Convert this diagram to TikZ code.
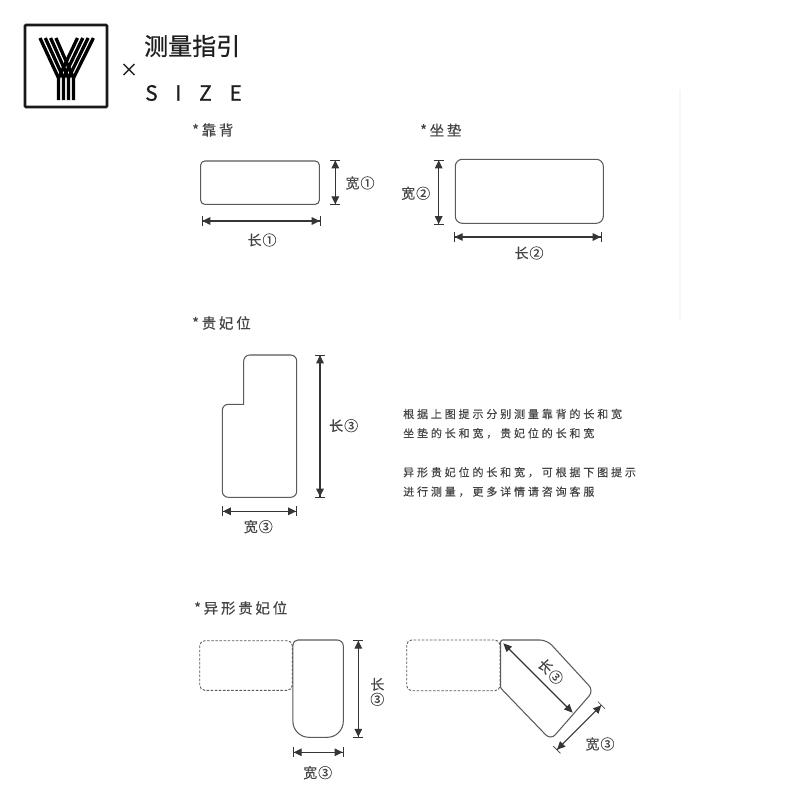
\documentclass[tikz,border=0pt]{standalone}
\usepackage{fontspec}
\setmainfont{Noto Sans CJK SC}[FakeBold=0.2]
\newfontfamily\lsa[LetterSpace=19,FakeBold=0.25]{Noto Sans CJK SC}
\newfontfamily\lsb[LetterSpace=26,FakeBold=0.25]{Noto Sans CJK SC}
\newfontfamily\lsc[LetterSpace=84,FakeBold=0.7]{Noto Sans CJK SC}
\newfontfamily\lsd[LetterSpace=7,FakeBold=0.2]{Noto Sans CJK SC}
\newfontfamily\hdf[FakeBold=0.6]{Noto Sans CJK SC}
\usetikzlibrary{arrows.meta}
\definecolor{ink}{HTML}{1E1E1E}
\definecolor{outl}{HTML}{5A5A5A}
\definecolor{txt}{HTML}{444444}
\tikzset{
  lbl/.style={inner sep=0pt,text=txt,font=\fontsize{14}{15}\lsd},
  ttl/.style={inner sep=0pt,anchor=west,text=txt,font=\fontsize{14.5}{16}\lsa},
  para/.style={inner sep=0pt,anchor=west,text=txt,font=\fontsize{11}{12}\lsb},
  shapeline/.style={draw=outl,line width=1.05pt},
  ghost/.style={draw=outl,line width=0.9pt,dash pattern=on 2.5pt off 1.6pt},
  dimen/.style={draw=ink!90,line width=1.1pt,{Bar[width=10pt,line width=0.6pt,sep=0pt]Triangle[length=8pt,width=7.5pt]}-{Triangle[length=8pt,width=7.5pt,sep=0pt]Bar[width=10pt,line width=0.6pt]}},
  dimenfree/.style={draw=ink!90,line width=1.1pt,{Triangle[length=8.5pt,width=7.5pt]}-{Triangle[length=8.5pt,width=7.5pt]}},
  ystroke/.style={draw=black,line width=3.3pt}
}
\begin{document}
\begin{tikzpicture}[x=1pt,y=-1pt]
\useasboundingbox (0,0) rectangle (800,800);
\fill[white] (0,0) rectangle (800,800);
% faint rule
\fill[black!3] (679.3,90) rectangle (681,320);
% logo
\draw[black!90,line width=2.6pt,rounded corners=1pt] (25,25) rectangle (107,107);
\foreach \i in {0,1,2,3}{
  \pgfmathsetmacro{\sx}{58.5+5*\i}
  \pgfmathsetmacro{\tl}{40+5.3*\i}
  \pgfmathsetmacro{\tr}{77.5+5.3*\i}
  \pgfmathsetmacro{\sr}{58.5+5*\i}
  \draw[ystroke] (\tl,38) -- (\sx,78) -- (\sx,100);
  \draw[ystroke] (\tr,38) -- (\sr,78);
}
\node[inner sep=0pt,text=ink,font=\fontsize{18}{18}\hdf] (cross) at (129,70) {×};
\node[inner sep=0pt,anchor=west,text=ink,font=\fontsize{24}{26}\hdf] (head) at (144,46) {测量指引};
\node[inner sep=0pt,anchor=west,text=ink,font=\fontsize{21}{24}\lsc] (size) at (145,93) {SIZE};
% titles
\node[ttl] (t1) at (192,130) {*靠背};
\node[ttl] (t2) at (420,130) {*坐垫};
\node[ttl] (t3) at (192,323) {*贵妃位};
\node[ttl] (t4) at (194,608) {*异形贵妃位};
% backrest
\draw[shapeline,rounded corners=4pt] (200.7,161) rectangle (319.3,204.3);
\coordinate (a1) at (335.3,159.7); \coordinate (a2) at (335.3,205);
\draw[dimen] (a1) -- (a2);
\node[lbl] (l1) at (360,183) {宽①};
\coordinate (b1) at (201.7,221); \coordinate (b2) at (320.3,221);
\draw[dimen] (b1) -- (b2);
\node[lbl] (l2) at (262,240) {长①};
% seat
\draw[shapeline,rounded corners=7pt] (455.3,159.3) rectangle (603.3,223.3);
\coordinate (c1) at (438.7,159.7); \coordinate (c2) at (438.7,224.7);
\draw[dimen] (c1) -- (c2);
\node[lbl] (l3) at (415.7,193.3) {宽②};
\coordinate (d1) at (454,237); \coordinate (d2) at (601.3,237);
\draw[dimen] (d1) -- (d2);
\node[lbl] (l4) at (529,253) {长②};
% chaise
\draw[shapeline,line join=miter] (243.7,380) [rounded corners=6pt] -- (243.7,355) -- (296.7,355) -- (296.7,497.3) -- (222.3,497.3) -- (222.3,404.3) [rounded corners=0pt] -- (243.7,404.3) -- (243.7,380) -- cycle;
\coordinate (e1) at (320,354.7); \coordinate (e2) at (320,497.3);
\draw[dimen] (e1) -- (e2);
\node[lbl] (l5) at (343.7,425.7) {长③};
\coordinate (f1) at (222.3,511.3); \coordinate (f2) at (296.7,511.3);
\draw[dimen] (f1) -- (f2);
\node[lbl] (l6) at (258.3,526.7) {宽③};
% paragraph
\node[para] (p1) at (403,414) {根据上图提示分别测量靠背的长和宽};
\node[para] (p2) at (403,433.3) {坐垫的长和宽，贵妃位的长和宽};
\node[para] (p3) at (403,472.3) {异形贵妃位的长和宽，可根据下图提示};
\node[para] (p4) at (403,491.7) {进行测量，更多详情请咨询客服};
% odd chaise, left
\draw[ghost,rounded corners=5pt] (199.7,640.7) rectangle (292.3,690.3);
\draw[shapeline] (318,640) [rounded corners=5pt] -- (292.9,640) [rounded corners=0pt] -- (292.9,690) [rounded corners=16pt] -- (292.9,737.3) -- (343.3,737.3) [rounded corners=6pt] -- (343.3,640) -- (318,640);
\coordinate (g1) at (358.3,640); \coordinate (g2) at (358.3,737.5);
\draw[dimen] (g1) -- (g2);
\node[lbl] (l7) at (377.3,684.3) {长};
\node[lbl] (l8) at (377.3,699.3) {③};
\coordinate (h1) at (293,752.3); \coordinate (h2) at (343.3,752.3);
\draw[dimen] (h1) -- (h2);
\node[lbl] (l9) at (317.7,772.7) {宽③};
% odd chaise, right
\draw[ghost,rounded corners=5pt] (406.7,640) rectangle (500,690.7);
\draw[shapeline] (500.6,665) [rounded corners=2pt] -- (500.6,640) [rounded corners=7pt] -- (547,640) -- (593.7,690.7) -- (550.7,740) [rounded corners=1pt] -- (500.6,688) -- (500.6,665);
\coordinate (i1) at (503.3,643.3); \coordinate (i2) at (572.7,712.7);
\draw[dimenfree] (i1) -- (i2);
\node[lbl,rotate=-46] (l10) at (550.7,671.7) {长③};
\coordinate (j1) at (601.7,705); \coordinate (j2) at (556.7,750);
\draw[dimen] (j1) -- (j2);
\node[lbl] (l11) at (600,744) {宽③};
\end{tikzpicture}
\end{document}
